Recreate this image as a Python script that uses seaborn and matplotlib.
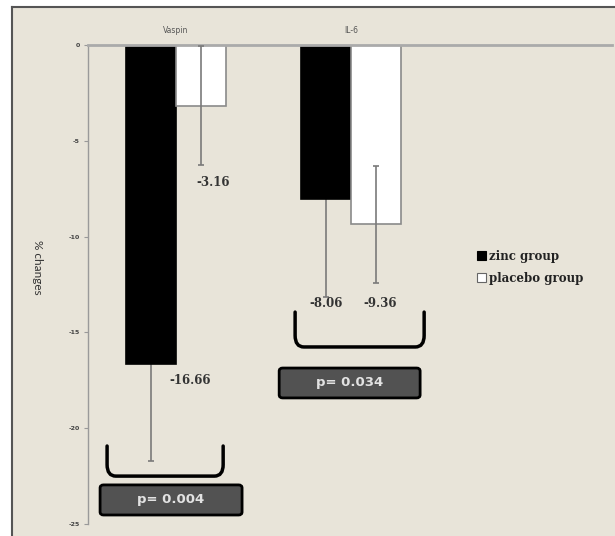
import matplotlib
matplotlib.use("Agg")
import matplotlib.pyplot as plt
from matplotlib.patches import Rectangle, FancyBboxPatch, PathPatch, Patch
from matplotlib.path import Path
from matplotlib.lines import Line2D
import seaborn as sns
import pandas as pd

# Percent change from baseline, mean and SD per group
markers = ["Vaspin", "IL-6"]
groups = ["zinc group", "placebo group"]
zinc_mean = [-16.66, -8.06]
placebo_mean = [-3.16, -9.36]
zinc_sd = [5.04, 5.08]
placebo_sd = [3.10, 3.07]
p_values = ["0.004", "0.034"]
y_ticks = [0, -5, -10, -15, -20, -25]

BG = "#E8E4D9"
plt.rcParams["axes.unicode_minus"] = False

df = pd.DataFrame({
    "marker": markers * 2,
    "group": [groups[0]] * 2 + [groups[1]] * 2,
    "change": zinc_mean + placebo_mean,
})

fig = plt.figure(figsize=(6.15, 5.36), dpi=100, facecolor="white")

# beige panel with dark left/top rule
fig.patches.append(Rectangle((12 / 615, 0), 1 - 12 / 615, 1 - 7 / 536,
                             transform=fig.transFigure, facecolor=BG,
                             edgecolor="none", zorder=-10))
fig.lines.append(Line2D([12 / 615, 12 / 615], [0, 1 - 7 / 536],
                        transform=fig.transFigure, color="#555555", lw=1.5))
fig.lines.append(Line2D([12 / 615, 1], [1 - 7 / 536, 1 - 7 / 536],
                        transform=fig.transFigure, color="#555555", lw=1.5))

ax = fig.add_axes([88 / 615, 1 - 524 / 536, (612 - 88) / 615, (524 - 45) / 536])
ax.set_facecolor("none")

sns.barplot(data=df, x="marker", y="change", hue="group", order=markers,
            hue_order=groups, palette=["black", "white"], width=0.571,
            errorbar=None, legend=False, ax=ax, saturation=1)

edge_cols = ["black", "#8a8a8a"]
means = [zinc_mean, placebo_mean]
sds = [zinc_sd, placebo_sd]
bar_containers = list(ax.containers)
centers = []
for i, cont in enumerate(bar_containers):
    xs = []
    for bar in cont.patches:
        bar.set_edgecolor(edge_cols[i])
        bar.set_linewidth(1.2)
        bar.set_zorder(2)
        xs.append(bar.get_x() + bar.get_width() / 2)
    centers.append(xs)
for i in range(len(groups)):
    ax.errorbar(centers[i], means[i], yerr=sds[i], fmt="none", ecolor="#7a7a7a",
                elinewidth=1.2, capsize=2.5, capthick=1.2,
                zorder=1 if i == 0 else 3)

ax.set_xlim(-0.503, 2.49)
ax.set_ylim(-25, 0)

# category names on top, small grey
ax.xaxis.tick_top()
ax.tick_params(axis="x", length=0, pad=7, labelsize=5.5, labelcolor="#555555")
ax.set_xlabel("")
ax.set_yticks(y_ticks)
ax.set_yticklabels([str(v) for v in y_ticks], fontsize=4.5, color="#444444",
                   fontweight="bold")
ax.tick_params(axis="y", length=3, width=0.8, color="#999999", pad=3)
ax.set_ylabel("")
for s in ["right", "bottom"]:
    ax.spines[s].set_visible(False)
ax.spines["top"].set_color("#aaaaaa")
ax.spines["top"].set_linewidth(2)
ax.spines["left"].set_color("#9a9a9a")
ax.spines["left"].set_linewidth(1)

fig.text(37 / 615, 1 - 267 / 536, "% changes", rotation=270, ha="center",
         va="center", fontsize=8.5, color="#333333", family="Lato")

# value labels
vfont = dict(fontsize=8.5, fontweight="bold", color="#333333",
             family="DejaVu Serif", ha="center", va="top")
# Vaspin placebo: below its error bar
ax.annotate(f"{placebo_mean[0]:.2f}", (centers[1][0], placebo_mean[0] - placebo_sd[0]),
            xytext=(9, -8), textcoords="offset points", **vfont)
# Vaspin zinc: right of the error bar, below the bar end
ax.annotate(f"{zinc_mean[0]:.2f}", (centers[0][0], zinc_mean[0]),
            xytext=(28, -7), textcoords="offset points", **vfont)
# IL-6 labels
ax.annotate(f"{zinc_mean[1]:.2f}", (centers[0][1], zinc_mean[1] - zinc_sd[1]),
            xytext=(0, 0), textcoords="offset points", **vfont)
ax.annotate(f"{placebo_mean[1]:.2f}", (centers[1][1], placebo_mean[1] - placebo_sd[1]),
            xytext=(3, -10), textcoords="offset points", **vfont)


def bracket(x0, x1, ytop, ybot):
    r = 0.05
    ry = 0.6
    verts = [(x0, ytop), (x0, ybot + ry), (x0, ybot), (x0 + r, ybot),
             (x1 - r, ybot), (x1, ybot), (x1, ybot + ry), (x1, ytop)]
    codes = [Path.MOVETO, Path.LINETO, Path.CURVE3, Path.CURVE3,
             Path.LINETO, Path.CURVE3, Path.CURVE3, Path.LINETO]
    ax.add_patch(PathPatch(Path(verts, codes), facecolor="none",
                           edgecolor="black", lw=2.5, zorder=4,
                           capstyle="round", joinstyle="round"))


def pbox(x0, x1, ytop, ybot, txt):
    ax.add_patch(FancyBboxPatch((x0, ybot), x1 - x0, ytop - ybot,
                                boxstyle="round,pad=0,rounding_size=0.02",
                                facecolor="#525252", edgecolor="black",
                                lw=2, zorder=4, mutation_aspect=8))
    ax.text((x0 + x1) / 2, (ytop + ybot) / 2, txt, ha="center", va="center",
            fontsize=9.5, fontweight="bold", color="#e2e2e2", zorder=5)


bracket(-0.394, 0.269, -20.93, -22.5)
bracket(0.68, 1.417, -13.94, -15.76)
pbox(-0.434, 0.377, -22.96, -24.53, f"p= {p_values[0]}")
pbox(0.589, 1.394, -16.86, -18.42, f"p= {p_values[1]}")

handles = [Patch(facecolor="black", edgecolor="black", lw=0.8),
           Patch(facecolor="white", edgecolor="#666666", lw=0.8)]
ax.legend(handles, groups, loc="upper left", bbox_to_anchor=(0.766, 0.545),
          bbox_transform=fig.transFigure, frameon=False, borderpad=0,
          handlelength=0.75, handleheight=0.75, handletextpad=0.3,
          labelspacing=0.75,
          prop=dict(family="DejaVu Serif", weight="bold", size=8.5))
for t in ax.get_legend().get_texts():
    t.set_color("#222222")

fig.savefig("out.png", dpi=100, facecolor=fig.get_facecolor())
